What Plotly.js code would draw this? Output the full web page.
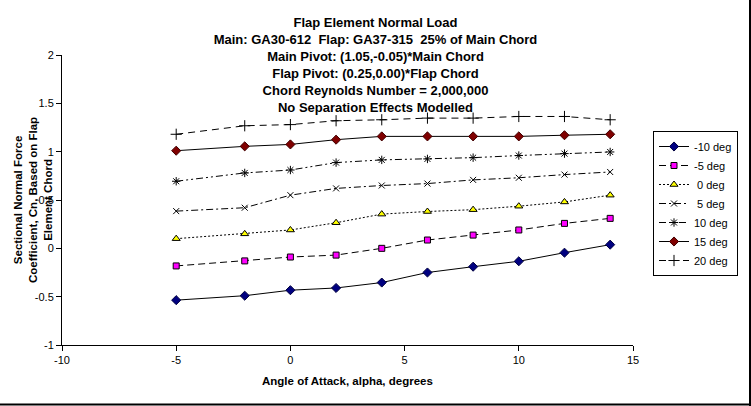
<!DOCTYPE html>
<html>
<head>
<meta charset="utf-8">
<script src="https://cdn.plot.ly/plotly-3.0.1.min.js"></script>
<style>
html, body { margin: 0; padding: 0; background: #fff; }
#chart { width: 751px; height: 406px; }
</style>
</head>
<body>
<div id="chart"></div>
<script>
const alpha = [-5, -2, 0, 2, 4, 6, 8, 10, 12, 14];
const seriesNames = ["-10 deg", "-5 deg", " 0 deg", " 5 deg", "10 deg", "15 deg", "20 deg"];
const cnM10 = [-0.536, -0.49, -0.433, -0.41, -0.354, -0.25, -0.19, -0.134, -0.045, 0.038];
const cnM5  = [-0.182, -0.13, -0.09, -0.07, 0.0, 0.086, 0.137, 0.19, 0.258, 0.31];
const cnP0  = [0.10, 0.15, 0.19, 0.265, 0.354, 0.381, 0.40, 0.436, 0.48, 0.55];
const cnP5  = [0.385, 0.42, 0.55, 0.62, 0.65, 0.67, 0.708, 0.73, 0.763, 0.79];
const cnP10 = [0.694, 0.78, 0.81, 0.887, 0.915, 0.925, 0.938, 0.96, 0.98, 0.997];
const cnP15 = [1.01, 1.055, 1.075, 1.124, 1.158, 1.158, 1.158, 1.158, 1.17, 1.18];
const cnP20 = [1.18, 1.268, 1.28, 1.32, 1.33, 1.347, 1.347, 1.364, 1.364, 1.33];
const xTickVals = [-10, -5, 0, 5, 10, 15];
const xTickText = ["-10", "-5", "0", "5", "10", "15"];
const yTickVals = [-1, -0.5, 0, 0.5, 1, 1.5, 2];
const yTickText = ["-1", "-0.5", "0", "0.5", "1", "1.5", "2"];

const FONT = "Liberation Sans, Arial, sans-serif";
const seriesData = [cnM10, cnM5, cnP0, cnP5, cnP10, cnP15, cnP20];
const styles = [
  {dash: "solid", marker: {symbol: "diamond", size: 7, color: "#000080", line: {color: "#000040", width: 1}}},
  {dash: "7px,4px", marker: {symbol: "square", size: 6, color: "#FF00FF", line: {color: "#000000", width: 1}}},
  {dash: "2px,2px", marker: {symbol: "triangle-up", size: 7, color: "#FFFF00", line: {color: "#000000", width: 1}}},
  {dash: "7px,3px,2px,3px", marker: {symbol: "x-thin-open", size: 6, color: "#000000", line: {color: "#000000", width: 1}}},
  {dash: "7px,3px,2px,3px,2px,3px", marker: {symbol: "asterisk-open", size: 7, color: "#000000", line: {color: "#000000", width: 1}}},
  {dash: "solid", marker: {symbol: "diamond", size: 7, color: "#800000", line: {color: "#400000", width: 1}}},
  {dash: "7px,5px", marker: {symbol: "cross-thin-open", size: 8, color: "#000000", line: {color: "#000000", width: 1}}}
];

const traces = seriesData.map((vals, i) => ({
  x: alpha,
  y: vals,
  name: seriesNames[i],
  type: "scatter",
  mode: "lines+markers",
  line: {color: "#000000", width: 1, dash: styles[i].dash},
  marker: styles[i].marker
}));

const L = 62, R = 118, T = 55, B = 61;
const PW = 751 - L - R, PH = 406 - T - B;
const px = v => (v - L) / PW;
const py = v => (406 - B - v) / PH;

const layout = {
  width: 751,
  height: 406,
  margin: {l: L, r: R, t: T, b: B, pad: 0},
  paper_bgcolor: "#ffffff",
  plot_bgcolor: "#ffffff",
  font: {family: FONT, size: 11, color: "#000000"},
  title: {
    text: "<b>Flap Element Normal Load<br>Main: GA30-612  Flap: GA37-315  25% of Main Chord<br>Main Pivot: (1.05,-0.05)*Main Chord<br>Flap Pivot: (0.25,0.00)*Flap Chord<br>Chord Reynolds Number = 2,000,000<br>No Separation Effects Modelled</b>",
    font: {family: FONT, size: 13, color: "#000000"},
    xref: "container", x: 0.5, xanchor: "center",
    yref: "container", y: 1 - 27 / 406, yanchor: "top"
  },
  showlegend: true,
  legend: {
    x: px(653), y: py(131), xanchor: "left", yanchor: "top",
    bordercolor: "#000000", borderwidth: 1, bgcolor: "#ffffff",
    font: {family: FONT, size: 11, color: "#000000"},
    tracegroupgap: 0
  },
  xaxis: {
    range: [-10, 15],
    tickvals: xTickVals, ticktext: xTickText,
    showgrid: false, zeroline: false,
    showline: true, linecolor: "#000000", linewidth: 1,
    ticks: "outside", ticklen: 5, tickcolor: "#000000", tickwidth: 1,
    tickfont: {family: FONT, size: 11, color: "#000000"},
    fixedrange: true
  },
  yaxis: {
    range: [-1, 2],
    tickvals: yTickVals, ticktext: yTickText,
    showgrid: false, zeroline: false,
    showline: true, linecolor: "#000000", linewidth: 1,
    ticks: "outside", ticklen: 5, tickcolor: "#000000", tickwidth: 1,
    tickfont: {family: FONT, size: 11, color: "#000000"},
    fixedrange: true
  },
  annotations: [
    {
      text: "<b>Angle of Attack, alpha, degrees</b>",
      xref: "paper", yref: "paper", x: 0.5, y: py(381),
      xanchor: "center", yanchor: "middle", showarrow: false,
      font: {family: FONT, size: 11.5, color: "#000000"}
    },
    {
      text: "<b>Sectional Normal Force<br>Coefficient, Cn, Based on Flap<br>Element Chord</b>",
      xref: "paper", yref: "paper", x: px(33), y: 0.5,
      xanchor: "center", yanchor: "middle", showarrow: false, textangle: -90,
      font: {family: FONT, size: 11.5, color: "#000000"}
    }
  ],
  shapes: [
    {type: "line", xref: "paper", yref: "paper", x0: px(750), x1: px(750), y0: py(406), y1: py(0), line: {color: "#000000", width: 2}},
    {type: "line", xref: "paper", yref: "paper", x0: px(0), x1: px(751), y0: py(404.5), y1: py(404.5), line: {color: "#000000", width: 2}}
  ]
};

Plotly.newPlot("chart", traces, layout, {displayModeBar: false, staticPlot: true});
</script>
</body>
</html>
